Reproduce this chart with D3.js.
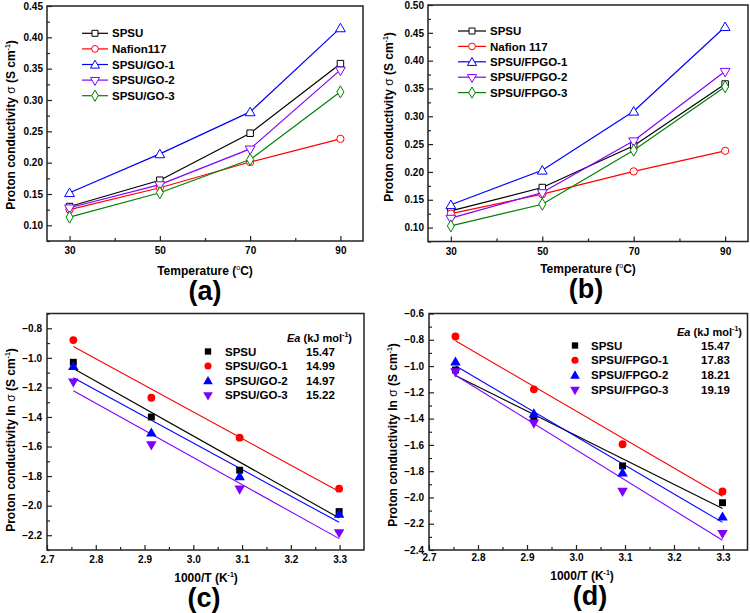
<!DOCTYPE html>
<html><head><meta charset="utf-8">
<script src="https://cdn.jsdelivr.net/npm/d3@7"></script>
<style>
body{margin:0;background:#fff}
svg text{font-family:"Liberation Sans",Arial,Helvetica,sans-serif;font-weight:bold;fill:#000}
</style>
</head><body>
<svg id="chart" width="750" height="613"></svg>
<script>
// ---------- data ----------
const temps = [30, 50, 70, 90];
const invT = [3.299, 3.095, 2.914, 2.754];           // 1000/T for 30,50,70,90 °C

const namesA = ["SPSU", "Nafion117", "SPSU/GO-1", "SPSU/GO-2", "SPSU/GO-3"];
const namesB = ["SPSU", "Nafion 117", "SPSU/FPGO-1", "SPSU/FPGO-2", "SPSU/FPGO-3"];
const colors5 = ["#000000", "#ff0000", "#0000ff", "#8000ff", "#008000"];
const shapes5 = ["square", "circle", "tri", "tridown", "diamond"];

const sigSPSU   = [0.130, 0.172, 0.247, 0.358];
const sigNafion = [0.125, 0.160, 0.201, 0.238];
const sigGO1    = [0.152, 0.214, 0.281, 0.415];
const sigGO2    = [0.128, 0.165, 0.222, 0.348];
const sigGO3    = [0.113, 0.152, 0.205, 0.313];
const sigFP1    = [0.141, 0.203, 0.309, 0.461];
const sigFP2    = [0.117, 0.163, 0.256, 0.381];
const sigFP3    = [0.103, 0.142, 0.239, 0.353];

const namesC = ["SPSU", "SPSU/GO-1", "SPSU/GO-2", "SPSU/GO-3"];
const namesD = ["SPSU", "SPSU/FPGO-1", "SPSU/FPGO-2", "SPSU/FPGO-3"];
const eaC = ["15.47", "14.99", "14.97", "15.22"];
const eaD = ["15.47", "17.83", "18.21", "19.19"];
const colors4 = ["#000000", "#ff0000", "#0000ff", "#8000ff"];
const shapes4 = ["square", "circle", "tri", "tridown"];

const lnSPSU = [-2.04, -1.76, -1.40, -1.03];
const lnGO1  = [-1.885, -1.54, -1.27, -0.88];
const lnGO2  = [-2.055, -1.80, -1.505, -1.055];
const lnGO3  = [-2.18, -1.885, -1.585, -1.16];
const lnFP1  = [-1.955, -1.595, -1.177, -0.775];
const lnFP2  = [-2.145, -1.81, -1.36, -0.965];
const lnFP3  = [-2.27, -1.95, -1.43, -1.04];

const ticksAx = [30, 50, 70, 90], minorAx = [40, 60, 80];
const ticksAy = [0.10, 0.15, 0.20, 0.25, 0.30, 0.35, 0.40, 0.45];
const ticksBy = [0.10, 0.15, 0.20, 0.25, 0.30, 0.35, 0.40, 0.45, 0.50];
const ticksCx = [2.7, 2.8, 2.9, 3.0, 3.1, 3.2, 3.3];
const ticksCy = [-2.2, -2.0, -1.8, -1.6, -1.4, -1.2, -1.0, -0.8];
const ticksDy = [-2.4, -2.2, -2.0, -1.8, -1.6, -1.4, -1.2, -1.0, -0.8, -0.6];

// ---------- helpers ----------
const svg = d3.select("#chart");

function symPath(shape, size) {
  const t = {square: d3.symbolSquare, circle: d3.symbolCircle, tri: d3.symbolTriangle,
             tridown: d3.symbolTriangle, diamond: d3.symbolDiamond}[shape];
  return d3.symbol().type(t).size(size)();
}
function marker(g, shape, cx, cy, color, filled, size) {
  g.append("path").attr("d", symPath(shape, size))
    .attr("transform", `translate(${cx},${cy})` + (shape === "tridown" ? " rotate(180)" : "") +
          (shape === "tri" ? " translate(0,1)" : "") )
    .attr("fill", filled ? color : "#fff")
    .attr("stroke", color).attr("stroke-width", filled ? 0 : 1);
}

function panel(cfg) {
  const {l, r, t, b} = cfg.frame;
  const x = d3.scaleLinear().domain(cfg.xDom).range([l, r]);
  const y = d3.scaleLinear().domain(cfg.yDom).range([b, t]);
  const g = svg.append("g");

  // axes (inward ticks)
  const xa = g.append("g").attr("transform", `translate(0,${b})`)
    .call(d3.axisBottom(x).tickValues(cfg.xTicks).tickFormat(cfg.xFmt)
      .tickSizeInner(-5).tickSizeOuter(0).tickPadding(cfg.xPad));
  const xm = g.append("g").attr("transform", `translate(0,${b})`)
    .call(d3.axisBottom(x).tickValues(cfg.xMinor).tickFormat("")
      .tickSizeInner(-3).tickSizeOuter(0));
  const ya = g.append("g").attr("transform", `translate(${l},0)`)
    .call(d3.axisLeft(y).tickValues(cfg.yTicks).tickFormat(cfg.yFmt)
      .tickSizeInner(-5).tickSizeOuter(0).tickPadding(cfg.yPad));
  const ym = g.append("g").attr("transform", `translate(${l},0)`)
    .call(d3.axisLeft(y).tickValues(cfg.yMinor).tickFormat("")
      .tickSizeInner(-3).tickSizeOuter(0));
  [xa, xm, ya, ym].forEach(a => {
    a.select(".domain").remove();
    a.selectAll("line").attr("stroke", "#222").attr("stroke-width", 1.2);
    a.selectAll("text").attr("font-size", 10).attr("font-family", null).attr("font-weight", "bold");
  });

  // frame
  g.append("rect").attr("x", l).attr("y", t).attr("width", r - l).attr("height", b - t)
    .attr("fill", "none").attr("stroke", "#222").attr("stroke-width", 1.5);

  // titles
  const yt = g.append("text").attr("font-size", 12).attr("text-anchor", "middle")
    .attr("transform", `translate(${cfg.yTitle[0]},${cfg.yTitle[1]}) rotate(-90)`);
  yt.append("tspan").text(cfg.yTitleText);
  yt.append("tspan").text("σ").attr("font-weight", "normal");
  yt.append("tspan").text(" (S cm");
  yt.append("tspan").text("-1").attr("font-size", 7).attr("dy", -5);
  yt.append("tspan").text(")").attr("dy", 5);

  const xt = g.append("text").attr("font-size", 12).attr("text-anchor", "middle")
    .attr("x", cfg.xTitle[0]).attr("y", cfg.xTitle[1]);
  cfg.xTitleParts(xt);

  g.append("text").attr("font-size", 27).attr("text-anchor", "middle")
    .attr("x", cfg.label[0]).attr("y", cfg.label[1]).text(cfg.labelText);

  return {g, x, y};
}

// ---------- panels (a) and (b) ----------
function tempTitle(xt) {
  xt.append("tspan").text("Temperature (");
  xt.append("tspan").text("o").attr("font-size", 7).attr("font-weight", "normal").attr("dy", -5);
  xt.append("tspan").text("C)").attr("dy", 5);
}
function arrTitle(xt) {
  xt.append("tspan").text("1000/T (K");
  xt.append("tspan").text("-1").attr("font-size", 7).attr("dy", -5);
  xt.append("tspan").text(")").attr("dy", 5);
}

function tempPanel(cfg, names, series, leg) {
  const {g, x, y} = panel(cfg);
  series.forEach((vals, i) => {
    const pts = temps.map((tt, j) => [x(tt), y(vals[j])]);
    g.append("path").attr("d", d3.line()(pts)).attr("fill", "none")
      .attr("stroke", colors5[i]).attr("stroke-width", 1.2);
    pts.forEach(p => marker(g, shapes5[i], p[0], p[1], colors5[i], false, 42));
  });
  names.forEach((n, i) => {
    const yy = leg.y0 + i * leg.dy;
    g.append("line").attr("x1", leg.x1).attr("x2", leg.x2).attr("y1", yy).attr("y2", yy)
      .attr("stroke", colors5[i]).attr("stroke-width", 1.2);
    marker(g, shapes5[i], (leg.x1 + leg.x2) / 2, yy, colors5[i], false, 36);
    g.append("text").attr("x", leg.tx).attr("y", yy).attr("dy", "0.36em")
      .attr("font-size", 11.5).text(n);
  });
}

const fmt2 = d3.format(".2f"), fmt1 = d3.format(".1f");

tempPanel({
  frame: {l: 47, r: 363, t: 6, b: 241}, xDom: [25, 95], yDom: [0.075, 0.45],
  xTicks: ticksAx, xMinor: minorAx, yTicks: ticksAy,
  yMinor: d3.range(0.075, 0.451, 0.05).map(v => +v.toFixed(3)),
  xFmt: d3.format("d"), yFmt: fmt2, xPad: 6, yPad: 4,
  yTitle: [15, 125], yTitleText: "Proton conductivity ", xTitle: [205, 275], xTitleParts: tempTitle,
  label: [205, 300], labelText: "(a)"
}, namesA, [sigSPSU, sigNafion, sigGO1, sigGO2, sigGO3], {x1: 82, x2: 108, tx: 112, y0: 33.3, dy: 15.6});

tempPanel({
  frame: {l: 428, r: 748, t: 5, b: 241.5}, xDom: [25, 95], yDom: [0.075, 0.50],
  xTicks: ticksAx, xMinor: minorAx, yTicks: ticksBy,
  yMinor: d3.range(0.075, 0.5, 0.05).map(v => +v.toFixed(3)),
  xFmt: d3.format("d"), yFmt: fmt2, xPad: 6, yPad: 4,
  yTitle: [393, 117], yTitleText: "Proton conductivity ", xTitle: [588, 273], xTitleParts: tempTitle,
  label: [586, 298], labelText: "(b)"
}, namesB, [sigSPSU, sigNafion, sigFP1, sigFP2, sigFP3], {x1: 458, x2: 486, tx: 490, y0: 31, dy: 15.4});

// ---------- panels (c) and (d) ----------
function arrPanel(cfg, names, series, ea, leg) {
  const {g, x, y} = panel(cfg);
  series.forEach((vals, i) => {
    const pts = invT.map((v, j) => [v, vals[j]]);
    const mx = d3.mean(pts, p => p[0]), my = d3.mean(pts, p => p[1]);
    const slope = d3.sum(pts, p => (p[0] - mx) * (p[1] - my)) / d3.sum(pts, p => (p[0] - mx) ** 2);
    const ext = d3.extent(invT);
    g.append("line")
      .attr("x1", x(ext[0])).attr("y1", y(my + slope * (ext[0] - mx)))
      .attr("x2", x(ext[1])).attr("y2", y(my + slope * (ext[1] - mx)))
      .attr("stroke", colors4[i]).attr("stroke-width", 1.1);
  });
  series.forEach((vals, i) => {
    invT.forEach((v, j) => marker(g, shapes4[i], x(v), y(vals[j]), colors4[i], true, 48));
  });
  const hd = g.append("text").attr("x", leg.hx).attr("y", leg.hy).attr("dy", "0.36em").attr("font-size", 11);
  hd.append("tspan").text("Ea").attr("font-style", "italic");
  hd.append("tspan").text(" (kJ mol");
  hd.append("tspan").text("-1").attr("font-size", 7).attr("dy", -5);
  hd.append("tspan").text(")").attr("dy", 5);
  names.forEach((n, i) => {
    const yy = leg.y0 + i * leg.dy;
    marker(g, shapes4[i], leg.mx, yy, colors4[i], true, 40);
    g.append("text").attr("x", leg.tx).attr("y", yy).attr("dy", "0.36em").attr("font-size", 11.5).text(n);
    g.append("text").attr("x", leg.vx).attr("y", yy).attr("dy", "0.36em").attr("font-size", 11.5).text(ea[i]);
  });
}

arrPanel({
  frame: {l: 47, r: 364, t: 313.5, b: 550}, xDom: [2.7, 3.35], yDom: [-2.3, -0.7],
  xTicks: ticksCx, xMinor: [2.75, 2.85, 2.95, 3.05, 3.15, 3.25],
  yTicks: ticksCy, yMinor: [-2.3, -2.1, -1.9, -1.7, -1.5, -1.3, -1.1, -0.9, -0.7],
  xFmt: fmt1, yFmt: fmt1, xPad: 6, yPad: 5,
  yTitle: [15, 440], yTitleText: "Proton conductivity ln ", xTitle: [206, 582], xTitleParts: arrTitle,
  label: [204, 607], labelText: "(c)"
}, namesC, [lnSPSU, lnGO1, lnGO2, lnGO3], eaC,
  {hx: 287, hy: 338.5, mx: 208, tx: 225, vx: 306, y0: 351.5, dy: 14.5});

arrPanel({
  frame: {l: 429, r: 747.5, t: 313.5, b: 550}, xDom: [2.7, 3.35], yDom: [-2.4, -0.6],
  xTicks: ticksCx, xMinor: [2.75, 2.85, 2.95, 3.05, 3.15, 3.25],
  yTicks: ticksDy, yMinor: [-2.3, -2.1, -1.9, -1.7, -1.5, -1.3, -1.1, -0.9, -0.7],
  xFmt: fmt1, yFmt: fmt1, xPad: 4, yPad: 5,
  yTitle: [397, 435], yTitleText: "Proton conductivity ln ", xTitle: [582, 580], xTitleParts: arrTitle,
  label: [590, 605], labelText: "(d)"
}, namesD, [lnSPSU, lnFP1, lnFP2, lnFP3], eaD,
  {hx: 677, hy: 332, mx: 575, tx: 591, vx: 701, y0: 345.5, dy: 14.7});
</script>
</body></html>
